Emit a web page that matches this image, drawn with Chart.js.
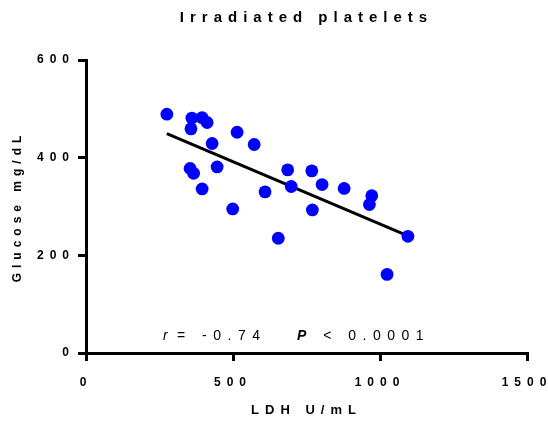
<!DOCTYPE html>
<html>
<head>
<meta charset="utf-8">
<script src="https://cdn.jsdelivr.net/npm/chart.js@4.4.0/dist/chart.umd.min.js"></script>
<style>
  html, body { margin: 0; padding: 0; background: #fff; }
</style>
</head>
<body>
<canvas id="chart" width="548" height="422"></canvas>
<script>
// LDH (U/mL) vs glucose (mg/dL), one point per sample
const ldh = [275, 360, 395, 412, 357, 514, 572, 429, 354, 366, 446, 686, 395,
             609, 499, 654, 698, 768, 803, 878, 972, 964, 770, 1095, 1024]
const glucose = [489, 481, 482, 472, 459, 452, 427, 429, 378, 368, 381, 375, 336,
                 330, 295, 235, 341, 373, 345, 337, 322, 304, 293, 239, 161]

// regression line end points
const fitX = [275, 1095]
const fitY = [449, 240]

const xTicks = [0, 500, 1000, 1500]
const yTicks = [0, 200, 400, 600]

const statR = '-0.74'
const statP = '0.0001'

const FONT = '"Liberation Sans", Arial, sans-serif'
const SPACING = '6px'

// everything in the original is drawn letter-spaced
const spacingPlugin = {
    id: 'spacing',
    beforeLayout(chart) { chart.ctx.letterSpacing = SPACING },
    beforeDraw(chart) {
        chart.ctx.letterSpacing = SPACING
        // y title is a bit tighter than the rest
        const y = chart.scales.y
        if (y && !y._patched) {
            const drawTitle = y.drawTitle
            y.drawTitle = function () {
                chart.ctx.letterSpacing = '5px'
                drawTitle.call(this)
                chart.ctx.letterSpacing = SPACING
            }
            y._patched = true
        }
    }
}

const statsPlugin = {
    id: 'stats',
    afterDraw(chart) {
        const ctx = chart.ctx
        const area = chart.chartArea
        ctx.save()
        ctx.letterSpacing = '6.5px'
        ctx.fillStyle = '#000'
        ctx.textBaseline = 'middle'
        ctx.textAlign = 'left'
        const y = area.bottom - 17
        const x = area.left + 77
        ctx.font = 'italic 14px ' + FONT
        ctx.fillText('r', x, y)
        ctx.font = '14px ' + FONT
        ctx.fillText('= ' + statR, x + 14, y)
        ctx.font = 'italic bold 14px ' + FONT
        ctx.fillText('P', x + 134, y)
        const pw = ctx.measureText('P').width
        ctx.font = '14px ' + FONT
        ctx.fillText(' < ' + statP, x + 134 + pw, y)
        ctx.restore()
    }
}

const points = ldh.map((v, i) => ({ x: v, y: glucose[i] }))
const fit = fitX.map((v, i) => ({ x: v, y: fitY[i] }))

const axisGrid = {
    drawOnChartArea: false,
    drawTicks: true,
    tickLength: 8,
    color: '#000',
    lineWidth: 3
}

const config = {
    type: 'scatter',
    data: {
        datasets: [
            {
                label: 'fit',
                type: 'line',
                data: fit,
                borderColor: '#000',
                borderWidth: 3,
                pointRadius: 0,
                fill: false,
                order: 2
            },
            {
                label: 'samples',
                data: points,
                backgroundColor: '#0000ff',
                borderColor: '#0000ff',
                borderWidth: 0,
                pointRadius: 6.4,
                pointHoverRadius: 6.4,
                order: 1
            }
        ]
    },
    options: {
        responsive: false,
        animation: false,
        events: [],
        layout: { padding: { top: 0, right: 21, bottom: 0, left: 0 } },
        plugins: {
            legend: { display: false },
            tooltip: { enabled: false },
            title: {
                display: true,
                fullSize: false,
                text: 'Irradiated platelets',
                color: '#000',
                font: { family: FONT, size: 15, weight: 'bold' },
                padding: { top: 9, bottom: 33 }
            }
        },
        scales: {
            x: {
                type: 'linear',
                min: 0,
                max: 1500,
                afterBuildTicks(scale) { scale.ticks = xTicks.map(v => ({ value: v })) },
                afterFit(scale) {
                    scale.height = 69
                    scale.paddingLeft = 0
                    scale.paddingRight = 0
                },
                grid: axisGrid,
                border: { display: true, color: '#000', width: 3 },
                ticks: {
                    color: '#000',
                    padding: 14,
                    callback: v => String(v),
                    font: { family: FONT, size: 12, weight: 'bold' }
                },
                title: {
                    display: true,
                    text: 'LDH U/mL',
                    color: '#000',
                    font: { family: FONT, size: 13, weight: 'bold' },
                    padding: { top: 0, bottom: 4 }
                }
            },
            y: {
                type: 'linear',
                min: 0,
                max: 600,
                afterBuildTicks(scale) { scale.ticks = yTicks.map(v => ({ value: v })) },
                afterFit(scale) {
                    scale.width = 86
                    scale.paddingTop = 0
                    scale.paddingBottom = 0
                },
                grid: axisGrid,
                border: { display: true, color: '#000', width: 3 },
                ticks: {
                    color: '#000',
                    padding: 3,
                    callback: v => String(v),
                    font: { family: FONT, size: 12, weight: 'bold' }
                },
                title: {
                    display: true,
                    text: 'Glucose mg/dL',
                    color: '#000',
                    font: { family: FONT, size: 12, weight: 'bold' },
                    padding: { top: 10, bottom: 0 }
                }
            }
        }
    },
    plugins: [spacingPlugin, statsPlugin]
}

new Chart(document.getElementById('chart'), config)
</script>
</body>
</html>
